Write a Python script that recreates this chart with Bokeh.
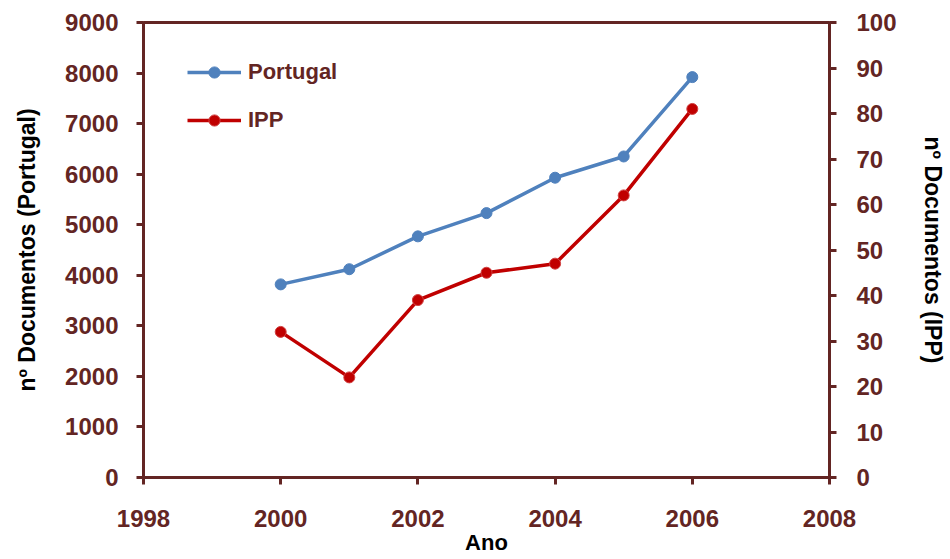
from bokeh.plotting import figure
from bokeh.models import Range1d, LinearAxis, FixedTicker, Legend, LegendItem
from bokeh.embed import file_html
from bokeh.resources import INLINE

# ---- data ----
years = [2000, 2001, 2002, 2003, 2004, 2005, 2006]
portugal = [3820, 4120, 4770, 5230, 5930, 6350, 7920]
ipp = [32, 22, 39, 45, 47, 62, 81]
x_ticks = [1998, 2000, 2002, 2004, 2006, 2008]
left_ticks = [0, 1000, 2000, 3000, 4000, 5000, 6000, 7000, 8000, 9000]
right_ticks = [0, 10, 20, 30, 40, 50, 60, 70, 80, 90, 100]

DARK = "#632523"
BLUE = "#4F81BD"
RED = "#C00000"
FONT = "Liberation Sans"

p = figure(width=948, height=557, output_backend="svg", toolbar_location=None,
           x_range=Range1d(1998, 2008), y_range=Range1d(0, 9000),
           min_border_left=143, min_border_right=119, min_border_top=22, min_border_bottom=79)
p.extra_y_ranges = {"ipp": Range1d(0, 100)}
p.grid.visible = False
p.outline_line_color = DARK
p.outline_line_width = 3
p.background_fill_color = "white"
p.border_fill_color = "white"

right_axis = LinearAxis(y_range_name="ipp")
p.add_layout(right_axis, "right")

p.xaxis.ticker = FixedTicker(ticks=x_ticks)
p.yaxis[0].ticker = FixedTicker(ticks=left_ticks)
right_axis.ticker = FixedTicker(ticks=right_ticks)

p.xaxis.axis_label = "Ano"
p.yaxis[0].axis_label = "nº Documentos (Portugal)"
right_axis.axis_label = "nº Documentos (IPP)"

for ax in [p.xaxis[0], p.yaxis[0], right_axis]:
    ax.axis_line_color = DARK
    ax.axis_line_width = 3
    ax.major_tick_line_color = DARK
    ax.major_tick_line_width = 3
    ax.major_tick_out = 7
    ax.major_tick_in = 0
    ax.minor_tick_line_color = None
    ax.major_label_text_color = DARK
    ax.major_label_text_font = FONT
    ax.major_label_text_font_style = "bold"
    ax.major_label_text_font_size = "24px"
    ax.axis_label_text_color = "black"
    ax.axis_label_text_font = FONT
    ax.axis_label_text_font_style = "bold"
    ax.axis_label_text_font_size = "23px"

p.xaxis[0].major_label_standoff = 25
p.xaxis[0].axis_label_standoff = 0
p.xaxis[0].axis_label_text_font_size = "22px"
p.yaxis[0].major_label_standoff = 18
p.yaxis[0].axis_label_standoff = 22
right_axis.major_label_standoff = 20
right_axis.axis_label_standoff = 20

l1 = p.line(years, portugal, line_color=BLUE, line_width=3.5)
s1 = p.scatter(years, portugal, size=11, fill_color=BLUE, line_color=BLUE)
l2 = p.line(years, ipp, line_color=RED, line_width=3.5, y_range_name="ipp")
s2 = p.scatter(years, ipp, size=11, fill_color=RED, line_color="#D04040", y_range_name="ipp")

legend = Legend(items=[LegendItem(label="Portugal", renderers=[l1, s1]),
                       LegendItem(label="IPP", renderers=[l2, s2])],
                location=(44, 343), orientation="vertical",
                glyph_width=54, glyph_height=28, spacing=20, padding=0, margin=0,
                label_standoff=7, label_text_font=FONT, label_text_font_style="bold",
                label_text_font_size="22px", label_text_color=DARK,
                border_line_alpha=0, background_fill_alpha=0)
p.add_layout(legend)

open("out.html", "w").write(file_html(p, INLINE))
